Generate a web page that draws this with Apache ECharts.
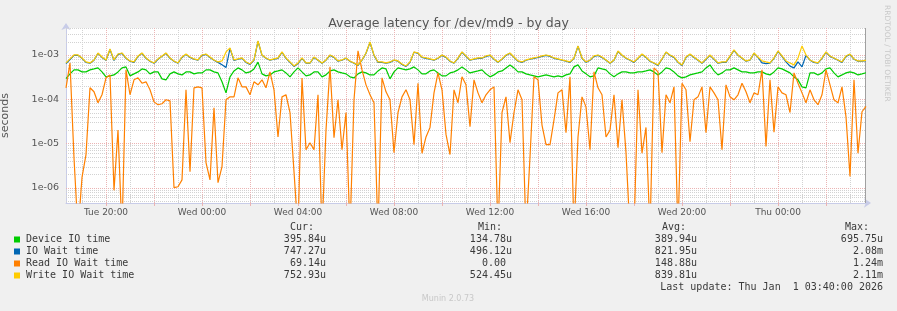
<!DOCTYPE html>
<html>
<head>
<meta charset="utf-8" />
<title>Average latency for /dev/md9 - by day</title>
<script src="https://cdn.jsdelivr.net/npm/echarts@6/dist/echarts.min.js"></script>
<style>
  html, body { margin: 0; padding: 0; background: #f0f0f0; }
  #main { width: 897px; height: 311px; }
</style>
</head>
<body>
<div id="main"></div>
<script type="text/javascript">
// one sample every 10 minutes, Tue 18:20 .. Thu 03:40, values in microseconds
var deviceIO = [290,374,460,460,414,414,460,484,510,414,
  320,337,354,414,510,537,337,374,414,484,
  460,374,414,414,288,274,374,414,374,354,
  414,414,374,393,393,460,460,414,393,247,
  139,320,436,510,460,393,414,484,690,374,
  337,354,414,436,460,393,320,414,510,414,
  337,354,414,414,320,354,436,460,414,393,
  374,320,304,374,414,393,354,354,436,510,
  484,288,414,510,484,460,484,537,460,374,
  374,436,460,393,337,337,393,414,460,537,
  460,393,414,436,460,374,320,354,414,436,
  510,596,510,414,414,374,354,337,320,337,
  354,337,320,337,320,354,374,537,596,436,
  374,320,337,510,484,460,374,320,374,414,
  414,393,393,414,414,436,460,414,354,414,
  510,484,414,337,304,320,354,374,393,414,
  510,596,436,354,393,460,460,510,460,414,
  414,393,393,414,414,374,354,414,510,484,
  436,393,320,274,190,181,393,393,354,393,
  484,510,393,320,354,393,414,393,354,374,
  396];

var ioWait = [640,790,980,985,840,680,650,760,1090,880,
  755,1330,750,1030,1090,840,720,680,930,1090,
  840,720,650,800,930,1090,840,720,650,880,
  1030,880,800,760,980,1030,880,760,680,600,
  520,1400,750,800,840,680,610,760,2040,980,
  840,760,800,840,1150,840,680,550,640,840,
  650,650,880,760,650,760,980,880,720,760,
  840,720,650,580,760,1090,1930,980,680,680,
  650,680,760,720,610,550,680,1150,1090,880,
  840,800,760,840,980,880,720,650,840,1150,
  930,760,800,840,840,930,980,800,680,800,
  980,1090,880,720,680,760,800,840,880,930,
  980,930,840,800,760,720,680,840,1570,840,
  680,760,930,980,880,760,650,760,1200,980,
  840,760,680,840,1030,880,720,650,580,800,
  1150,980,880,680,580,880,1030,880,760,650,
  800,980,800,650,680,680,930,1270,980,840,
  720,760,1090,880,660,640,650,840,1200,930,
  700,560,510,700,540,980,760,680,650,840,
  1150,930,840,760,680,930,1030,800,720,720,
  747];

// 0.1 stands for the samples at zero (drawn below the axis floor)
var readWait = [181,660,4.7,0.1,1.7,5.6,181,147,83,126,
  304,354,0.87,20,0.1,460,126,274,304,230,
  247,163,87,75,79,97,92,1.0,1.05,1.5,
  163,2.3,181,190,181,3.7,1.5,64,1.3,3.0,
  97,113,113,304,190,190,126,247,211,274,
  181,414,163,14,113,126,50,2.3,0.1,300,
  7.2,10.4,7.2,126,0.1,20,537,13.5,97,7.2,
  50,0.1,97,1240,460,211,126,83,0.1,304,
  147,97,6.2,50,113,163,97,9.4,230,6,
  14,23,139,393,163,16,5.6,163,83,320,
  211,24,274,139,83,126,163,190,0.1,50,
  113,10.4,50,163,97,0.1,5.0,320,274,26,
  9.4,9.4,34,139,163,17.5,320,0.1,14,113,
  67,7.2,414,181,126,14,20,126,8,97,
  6.2,0.1,0.1,163,6,23,0.1,510,414,6.2,
  126,83,190,0.1,230,163,11,97,113,190,
  17.5,190,139,97,7.2,211,113,97,126,230,
  147,83,139,126,460,8.5,274,18,190,139,
  126,50,393,230,139,83,163,97,75,126,
  460,211,97,83,190,40,1.8,274,6,52,
  69];

var writeWait = [661,813,1000,1000,856,696,661,772,1110,900,
  772,1360,772,1050,1110,856,733,696,950,1110,
  856,733,661,813,950,1110,856,733,661,900,
  1050,900,813,772,1000,1050,900,772,696,733,
  1170,1440,772,813,856,696,627,772,2070,1000,
  856,772,813,856,1170,856,696,565,661,856,
  661,661,900,772,661,772,1000,900,733,772,
  856,733,661,596,772,1110,1960,1000,696,696,
  661,696,772,733,627,565,696,1170,1110,900,
  856,813,772,856,1000,900,733,661,856,1170,
  950,772,813,856,856,950,1000,813,696,813,
  1000,1110,900,733,696,772,813,856,900,950,
  1000,950,856,813,772,733,696,856,1600,856,
  696,772,950,1000,900,772,661,772,1230,1000,
  856,772,696,856,1050,900,733,661,596,813,
  1170,1000,900,696,596,900,1050,900,772,661,
  813,1000,813,661,696,696,950,1300,1000,856,
  733,772,1110,900,733,696,661,856,1230,950,
  733,661,596,856,1600,1000,772,696,661,856,
  1170,950,856,772,696,950,1050,813,733,733,
  753];

var seriesNames = ['Device IO time', 'IO Wait time', 'Read IO Wait time', 'Write IO Wait time'];
var seriesColors = ['#00cc00', '#0066b3', '#ff8000', '#ffcc00'];
var curValues = ['395.84u', '747.27u', '69.14u', '752.93u'];
var minValues = ['134.78u', '496.12u', '0.00 ', '524.45u'];
var avgValues = ['389.94u', '821.95u', '148.88u', '839.81u'];
var maxValues = ['695.75u', '2.08m', '1.24m', '2.11m'];
var lastUpdate = 'Last update: Thu Jan  1 03:40:00 2026';

var dayNames = ['Tue', 'Wed', 'Thu'];
var startMinute = 18 * 60 + 20;
var stepMinutes = 10;

function pad2(n) { return (n < 10 ? '0' : '') + n; }
function minuteOf(idx) { return startMinute + idx * stepMinutes; }
function onHour(idx) { return minuteOf(idx) % 60 === 0; }
function hourOf(idx) { return Math.floor(minuteOf(idx) / 60) % 24; }

var times = [];
for (var i = 0; i < deviceIO.length; i++) {
  var m = minuteOf(i);
  times.push(dayNames[Math.floor(m / 1440)] + ' ' + pad2(hourOf(i)) + ':' + pad2(m % 60));
}

var yMin = 4.5e-7, yMax = 4.07e-3;
var MONO = '10px "DejaVu Sans Mono"';
var RED_GRID = '#ebb4b4', GREY_GRID = '#d2d2d2';

// grid helper rows: [category index, value, kind]
// kind 0 = minor horizontal, 1 = decade horizontal, 2 = hour vertical, 3 = 2-hour vertical, 4 = right edge
var gridRows = [];
for (var e = -7; e <= -3; e++) {
  for (var k = 1; k <= 9; k++) {
    var v = k * Math.pow(10, e);
    if (v < yMin || v > yMax) continue;
    gridRows.push([0, v, k === 1 ? 1 : 0]);
  }
}
for (var j = 0; j < times.length; j++) {
  if (onHour(j)) gridRows.push([j, yMin, hourOf(j) % 2 === 0 ? 3 : 2]);
}
gridRows.push([times.length - 1, yMin, 4]);

function renderGrid(params, api) {
  var cs = params.coordSys;
  var kind = api.value(2);
  var color = (kind === 1 || kind === 3) ? RED_GRID : GREY_GRID;
  var dash = [1, 1];
  var x1, y1, x2, y2;
  if (kind < 2) {
    var y = Math.round(api.coord([0, api.value(1)])[1]) + 0.5;
    x1 = cs.x; x2 = cs.x + cs.width; y1 = y; y2 = y;
  } else {
    var x = Math.round(api.coord([api.value(0), api.value(1)])[0]) + 0.5;
    x1 = x; x2 = x; y1 = cs.y; y2 = cs.y + cs.height;
    if (kind === 4) { color = '#a0a0a0'; dash = null; x1 = x2 = x - 1; }
  }
  return {
    type: 'line',
    shape: { x1: x1, y1: y1, x2: x2, y2: y2 },
    style: { stroke: color, lineWidth: 1, lineDash: dash }
  };
}

function toSeconds(arr) { return arr.map(function (v) { return v * 1e-6; }); }

function lineSeries(name, color, values) {
  return {
    name: name,
    type: 'line',
    data: toSeconds(values),
    showSymbol: false,
    symbol: 'none',
    clip: true,
    z: 3,
    lineStyle: { color: color, width: 1.2 },
    itemStyle: { color: color },
    animation: false
  };
}

var graphics = [];
var rowY = [239.5, 251.5, 263.5, 275.5];
var txt = '#3a3a3a';
for (var r = 0; r < seriesNames.length; r++) {
  graphics.push({ type: 'rect', shape: { x: 14, y: rowY[r] - 3, width: 6, height: 6 }, style: { fill: seriesColors[r] } });
  graphics.push({ type: 'text', x: 26, y: rowY[r], style: { text: seriesNames[r], font: MONO, fill: txt, verticalAlign: 'middle' } });
  graphics.push({ type: 'text', x: 326, y: rowY[r], style: { text: curValues[r], font: MONO, fill: txt, align: 'right', verticalAlign: 'middle' } });
  graphics.push({ type: 'text', x: 512, y: rowY[r], style: { text: minValues[r], font: MONO, fill: txt, align: 'right', verticalAlign: 'middle' } });
  graphics.push({ type: 'text', x: 697, y: rowY[r], style: { text: avgValues[r], font: MONO, fill: txt, align: 'right', verticalAlign: 'middle' } });
  graphics.push({ type: 'text', x: 883, y: rowY[r], style: { text: maxValues[r], font: MONO, fill: txt, align: 'right', verticalAlign: 'middle' } });
}
[['Cur:', 290], ['Min:', 478], ['Avg:', 662], ['Max:', 845]].forEach(function (h) {
  graphics.push({ type: 'text', x: h[1], y: 227.5, style: { text: h[0], font: MONO, fill: txt, verticalAlign: 'middle' } });
});
graphics.push({ type: 'text', x: 883, y: 287, style: { text: lastUpdate, font: MONO, fill: txt, align: 'right', verticalAlign: 'middle' } });
graphics.push({ type: 'text', x: 448, y: 299, style: { text: 'Munin 2.0.73', font: '8px "DejaVu Sans"', fill: '#c8c8c8', align: 'center', verticalAlign: 'middle' } });
graphics.push({ type: 'text', x: 887, y: 5, rotation: -Math.PI / 2, style: { text: 'RRDTOOL / TOBI OETIKER', font: '7.5px "DejaVu Sans"', fill: '#c8c8c8', verticalAlign: 'middle' } });

var chart = echarts.init(document.getElementById('main'));

var option = {
  backgroundColor: '#f0f0f0',
  animation: false,
  title: {
    text: 'Average latency for /dev/md9 - by day',
    left: 'center',
    top: 12,
    textStyle: { fontFamily: 'DejaVu Sans', fontSize: 12.5, fontWeight: 'normal', color: '#555' }
  },
  grid: {
    left: 66, right: 31, top: 28, bottom: 108,
    show: true, backgroundColor: '#ffffff', borderWidth: 0,
    containLabel: false, outerBoundsMode: 'none'
  },
  xAxis: {
    type: 'category',
    data: times,
    boundaryGap: false,
    axisLine: { show: true, lineStyle: { color: '#c8cce8', width: 1 }, symbol: ['none', 'arrow'], symbolSize: [7, 7], symbolOffset: [0, 5] },
    axisTick: { show: true, length: 3, lineStyle: { color: RED_GRID }, interval: function (idx) { return onHour(idx) && hourOf(idx) % 2 === 0; } },
    axisLabel: {
      show: true, margin: 5, color: '#555', fontFamily: 'DejaVu Sans', fontSize: 9,
      interval: function (idx) { return onHour(idx) && hourOf(idx) % 4 === 0; }
    },
    splitLine: { show: false }
  },
  yAxis: {
    type: 'log',
    logBase: 10,
    min: yMin,
    max: yMax,
    name: 'seconds',
    nameLocation: 'middle',
    nameGap: 55,
    nameRotate: 90,
    nameTextStyle: { fontFamily: 'DejaVu Sans', fontSize: 11, color: '#555' },
    axisLine: { show: true, lineStyle: { color: '#c8cce8', width: 1 }, symbol: ['none', 'arrow'], symbolSize: [7, 7], symbolOffset: [0, 5] },
    axisTick: { show: false },
    splitLine: { show: false },
    axisLabel: {
      margin: 7, color: '#555', fontFamily: 'DejaVu Sans', fontSize: 9.5,
      formatter: function (v) {
        var ex = Math.log10(v);
        var re = Math.round(ex);
        if (Math.abs(ex - re) > 1e-6) return '';
        return '1e' + (re < 0 ? '-' : '+') + pad2(Math.abs(re));
      }
    }
  },
  series: [{
    type: 'custom',
    name: 'grid',
    silent: true,
    z: 1,
    data: gridRows,
    encode: { x: 0, y: 1 },
    renderItem: renderGrid,
    animation: false
  },
    lineSeries(seriesNames[0], seriesColors[0], deviceIO),
    lineSeries(seriesNames[1], seriesColors[1], ioWait),
    lineSeries(seriesNames[2], seriesColors[2], readWait),
    lineSeries(seriesNames[3], seriesColors[3], writeWait)
  ],
  graphic: graphics
};

chart.setOption(option);
</script>
</body>
</html>
